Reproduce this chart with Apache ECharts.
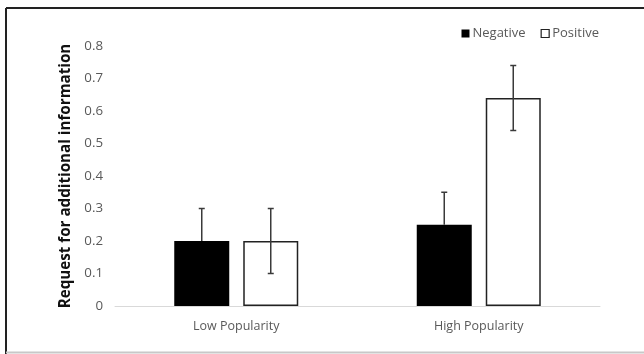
<!DOCTYPE html>
<html><head><meta charset="utf-8">
<script src="https://cdn.jsdelivr.net/npm/echarts@6/dist/echarts.min.js"></script>
<style>html,body{margin:0;padding:0;background:#fff}#c{width:644px;height:354px}</style>
</head><body><div id="c"></div>
<script>
const categories = ['Low Popularity', 'High Popularity'];
const negative = [0.20, 0.25];
const positive = [0.20, 0.64];
const negativeErr = [0.10, 0.10];
const positiveErr = [0.10, 0.10];
const yTicks = [0, 0.1, 0.2, 0.3, 0.4, 0.5, 0.6, 0.7, 0.8];

const font = '"Open Sans", sans-serif';
const BAR_W = 55, GAP = 14;
const off = (BAR_W + GAP) / 2;

function errRender(offset, both) {
  return function (params, api) {
    const i = api.value(0), v = api.value(1), e = api.value(2);
    const top = api.coord([i, v + e]);
    const bot = api.coord([i, both ? v - e : v]);
    const x = top[0] + offset;
    const cap = 3;
    const st = { stroke: '#3a3a3a', lineWidth: 1.5 };
    const ch = [
      { type: 'line', shape: { x1: x, y1: top[1], x2: x, y2: bot[1] }, style: st },
      { type: 'line', shape: { x1: x - cap, y1: top[1], x2: x + cap, y2: top[1] }, style: st }
    ];
    if (both) ch.push({ type: 'line', shape: { x1: x - cap, y1: bot[1], x2: x + cap, y2: bot[1] }, style: st });
    return { type: 'group', children: ch };
  };
}

const chart = echarts.init(document.getElementById('c'), null, { renderer: 'canvas' });
chart.setOption({
  animation: false,
  backgroundColor: '#fff',
  graphic: [
    { type: 'line', shape: { x1: 6, y1: 8, x2: 644, y2: 8 }, style: { stroke: '#222', lineWidth: 2 } },
    { type: 'line', shape: { x1: 6, y1: 8, x2: 6, y2: 354 }, style: { stroke: '#222', lineWidth: 2 } },
    { type: 'line', shape: { x1: 6, y1: 352.5, x2: 644, y2: 352.5 }, style: { stroke: '#c8c8c8', lineWidth: 2 } }
  ],
  legend: {
    top: 22, right: 40, itemWidth: 8, itemHeight: 8, itemGap: 15,
    textStyle: { fontFamily: font, fontSize: 13, color: '#595959', padding: [0, 0, 0, -2] },
    data: [
      { name: 'Negative', icon: 'rect', itemStyle: { color: '#000', borderColor: '#000', borderWidth: 0 } },
      { name: 'Positive', icon: 'rect', itemStyle: { color: '#fff', borderColor: '#222', borderWidth: 1.2 } }
    ]
  },
  grid: { left: 115, right: 44, top: 46, bottom: 48 },
  xAxis: {
    type: 'category', data: categories,
    axisLine: { lineStyle: { color: '#d9d9d9', width: 1 } },
    axisTick: { show: false },
    axisLabel: { fontFamily: font, fontSize: 12.5, color: '#595959', margin: 14 }
  },
  yAxis: {
    type: 'value', min: 0, max: 0.8, interval: 0.1,
    name: 'Request for additional information', nameLocation: 'middle', nameGap: 42,
    nameTextStyle: { fontFamily: font, fontSize: 15.2, fontWeight: 'bold', color: '#111' },
    axisLine: { show: false }, axisTick: { show: false }, splitLine: { show: false },
    axisLabel: { fontFamily: font, fontSize: 13.3, color: '#595959', margin: 12,
      formatter: v => { const t = yTicks.find(x => Math.abs(x - v) < 1e-9); return t === 0 ? '0' : String(t); } }
  },
  series: [
    { name: 'Negative', type: 'bar', data: negative, barWidth: BAR_W, barGap: (GAP / BAR_W * 100) + '%',
      itemStyle: { color: '#000' } },
    { name: 'Positive', type: 'bar', data: positive, barWidth: BAR_W,
      itemStyle: { color: '#fff', borderColor: '#222', borderWidth: 1.5 } },
    { type: 'custom', z: 10, renderItem: errRender(-off, false),
      data: negative.map((v, i) => [i, v, negativeErr[i]]), silent: true },
    { type: 'custom', z: 10, renderItem: errRender(off, true),
      data: positive.map((v, i) => [i, v, positiveErr[i]]), silent: true }
  ]
});
</script></body></html>
